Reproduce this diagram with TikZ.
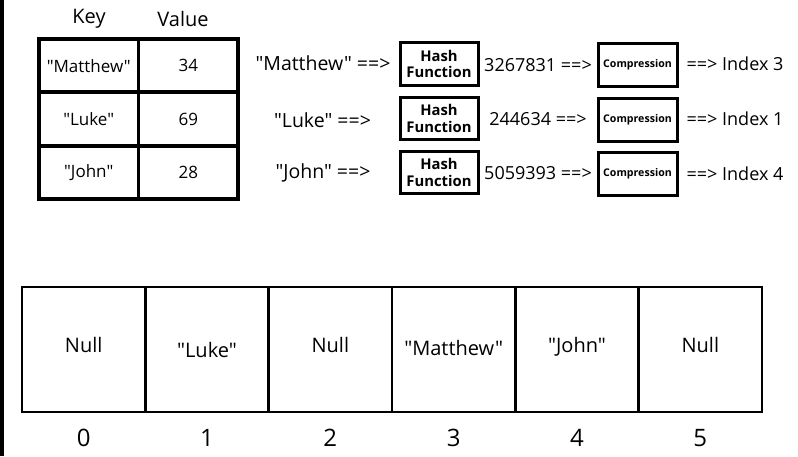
\documentclass[tikz,border=0pt]{standalone}
\usepackage{fontspec}
\setmainfont{Open Sans}[Ligatures=TeXOff]
\begin{document}
\begin{tikzpicture}[x=1pt,y=-1pt,
  every node/.style={inner sep=0pt},
  hdr/.style={font=\fontsize{20}{24}\selectfont},
  tcell/.style={draw, line width=3.8pt, minimum width=99.5pt, minimum height=53.3pt, font=\fontsize{17}{20}\selectfont},
  flowtxt/.style={font=\fontsize{19.5}{23}\selectfont},
  numtxt/.style={font=\fontsize{18}{22}\selectfont},
  hbox/.style={draw, line width=3pt, minimum width=78pt, minimum height=42.5pt, align=center, font=\bfseries\fontsize{14.8}{15.2}\selectfont},
  cbox/.style={draw, line width=3pt, minimum width=79pt, minimum height=43pt, font=\bfseries\fontsize{10.6}{12}\selectfont},
  acell/.style={draw, line width=2.5pt, minimum width=123.33pt, minimum height=125pt},
  atxt/.style={font=\fontsize{20}{24}\selectfont},
  idx/.style={font=\fontsize{24}{28}\selectfont}
]
\useasboundingbox (0,0) rectangle (798,456);
\fill[black] (0,0) rectangle (4,456);

% headers
\node[hdr] (hkey) at (89,19) {Key};
\node[hdr] (hval) at (183,19) {Value};

% key/value table
\node[tcell] (k1) at (88.75,65.7) {"Matthew"};
\node[tcell] (v1) at (188.25,65.7) {34};
\node[tcell] (k2) at (88.75,119) {"Luke"};
\node[tcell] (v2) at (188.25,119) {69};
\node[tcell] (k3) at (88.75,172.3) {"John"};
\node[tcell] (v3) at (188.25,172.3) {28};

% flow rows
\node[flowtxt] (in1) at (323,63) {"Matthew" ==>};
\node[flowtxt] (in2) at (322.5,120) {"Luke" ==>};
\node[flowtxt] (in3) at (323,173) {"John" ==>};

\node[hbox] (h1) at (439,64) {\raisebox{1pt}{Hash}\\Function};
\node[hbox] (h2) at (439,118.5) {\raisebox{1pt}{Hash}\\Function};
\node[hbox] (h3) at (439,172.5) {\raisebox{1pt}{Hash}\\Function};

\node[numtxt] (n1) at (538,65) {3267831 ==>};
\node[numtxt] (n2) at (538,119) {244634 ==>};
\node[numtxt] (n3) at (538,173) {5059393 ==>};

\node[cbox] (c1) at (637.5,64.5) {\raisebox{3pt}{Compression}};
\node[cbox] (c2) at (637.5,119.5) {\raisebox{3pt}{Compression}};
\node[cbox] (c3) at (637.5,173.5) {\raisebox{3pt}{Compression}};

\node[numtxt] (o1) at (735,64) {==> Index 3};
\node[numtxt] (o2) at (735,119) {==> Index 1};
\node[numtxt] (o3) at (735,174) {==> Index 4};

% array
\foreach \i in {0,...,5} {
  \node[acell] (a\i) at (22+123.33*\i+61.67,349.5) {};
  \node[idx] (i\i) at ([yshift=-25pt]a\i.south) {\i};
}
\node[atxt] (t0) at ([yshift=4.5pt]a0.center) {Null};
\node[atxt] (t1) at ([yshift=-0.5pt]a1.center) {"Luke"};
\node[atxt] (t2) at ([yshift=4.5pt]a2.center) {Null};
\node[atxt] (t3) at ([yshift=1.5pt]a3.center) {"Matthew"};
\node[atxt] (t4) at ([yshift=2.5pt]a4.center) {"John"};
\node[atxt] (t5) at ([yshift=4.5pt]a5.center) {Null};
\end{tikzpicture}
\end{document}
